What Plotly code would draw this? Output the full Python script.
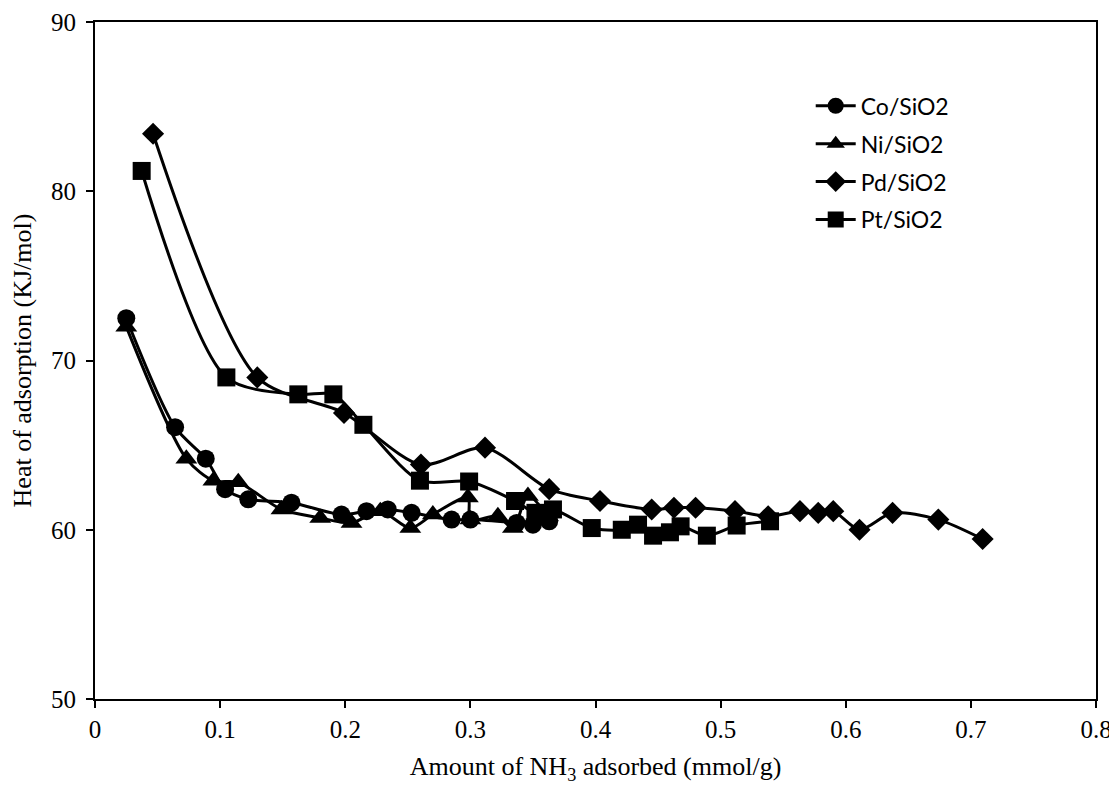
import plotly.graph_objects as go

co_x = [0.025, 0.064, 0.0885, 0.104, 0.1225, 0.157, 0.197, 0.217, 0.234, 0.253, 0.285, 0.300, 0.337, 0.350, 0.363]
co_y = [72.5, 66.06, 64.2, 62.4, 61.8, 61.6, 60.9, 61.1, 61.2, 61.0, 60.6, 60.6, 60.4, 60.3, 60.5]

ni_x = [0.025, 0.073, 0.0946, 0.1145, 0.149, 0.18, 0.205, 0.228, 0.252, 0.27, 0.298, 0.300, 0.322, 0.334, 0.346, 0.362]
ni_y = [72.0, 64.2, 62.9, 62.8, 61.2, 60.7, 60.4, 61.1, 60.1, 60.9, 61.9, 60.6, 60.8, 60.1, 62.0, 60.8]

pd_x = [0.0464, 0.1297, 0.199, 0.2605, 0.3117, 0.363, 0.4036, 0.4449, 0.4627, 0.480, 0.5115, 0.538,
        0.5634, 0.578, 0.590, 0.611, 0.6374, 0.674, 0.7094]
pd_y = [83.4, 69.0, 66.9, 63.85, 64.85, 62.4, 61.7, 61.2, 61.3, 61.3, 61.1, 60.8,
        61.1, 61.0, 61.1, 60.0, 61.0, 60.6, 59.45]

pt_x = [0.0373, 0.105, 0.1625, 0.1905, 0.2145, 0.2597, 0.299, 0.3357, 0.352, 0.366, 0.397, 0.421,
        0.434, 0.446, 0.4595, 0.468, 0.489, 0.5128, 0.5395]
pt_y = [81.2, 69.0, 68.0, 68.0, 66.2, 62.9, 62.85, 61.7, 61.0, 61.2, 60.1, 60.0,
        60.3, 59.65, 59.85, 60.2, 59.65, 60.25, 60.5]

series = [
    ("Co/SiO2", co_x, co_y, "circle", 18),
    ("Ni/SiO2", ni_x, ni_y, "triangle-up", 19),
    ("Pd/SiO2", pd_x, pd_y, "diamond", 17),
    ("Pt/SiO2", pt_x, pt_y, "square", 18),
]

fig = go.Figure()
for name, xs, ys, sym, sz in series:
    fig.add_trace(go.Scatter(
        x=xs, y=ys, name=name, mode="lines+markers", legendgroup=name,
        line=dict(color="black", width=3, shape="spline", smoothing=0.8),
        marker=dict(symbol=sym, size=sz, color="black"),
    ))

axis_common = dict(
    showline=True, linecolor="black", linewidth=2, mirror=True,
    ticks="outside", ticklen=7, tickwidth=2, tickcolor="black",
    showgrid=False, zeroline=False, automargin=False,
    ticklabeloverflow="allow",
    tickfont=dict(family="Liberation Serif", size=25, color="black"),
)

fig.update_xaxes(range=[0, 0.8], dtick=0.1, tickformat="~g",
                 title=dict(text="Amount of NH<sub>3</sub> adsorbed (mmol/g)",
                            font=dict(family="Liberation Serif", size=26, color="black")),
                 **axis_common)
fig.update_yaxes(range=[50, 90], dtick=10, ticklabelstandoff=5,
                 title=dict(text="Heat of adsorption (KJ/mol)",
                            font=dict(family="Liberation Serif", size=26, color="black")),
                 **axis_common)

fig.update_layout(
    width=1109, height=778,
    margin=dict(l=87, r=21, t=14, b=87),
    plot_bgcolor="white", paper_bgcolor="white",
    legend=dict(x=0.715, y=0.908, xanchor="left", yanchor="top",
                font=dict(family="Lato", size=23, color="black"),
                bgcolor="rgba(0,0,0,0)", tracegroupgap=5, itemwidth=40),
    showlegend=True,
)

fig.write_html("out.html")
